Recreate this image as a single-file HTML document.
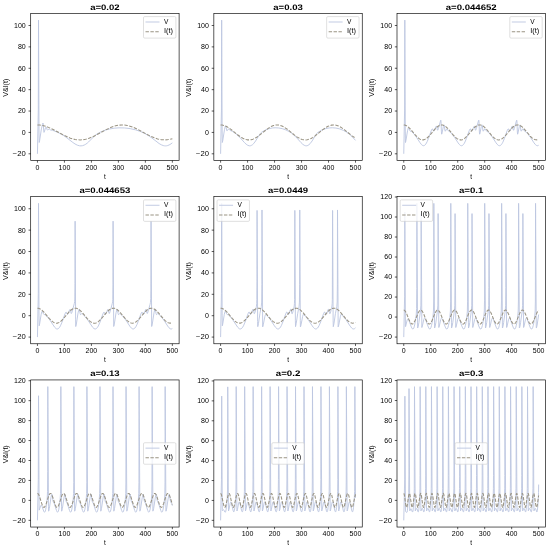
<!DOCTYPE html>
<html><head><meta charset="utf-8"><style>
html,body{margin:0;padding:0;background:#fff;}
svg{display:block;will-change:transform;font-family:"Liberation Sans",sans-serif;}
</style></head><body>
<svg width="550" height="550" viewBox="0 0 550 550">
<rect width="550" height="550" fill="#fff"/>
<clipPath id="c0"><rect x="30.7" y="13.4" width="148.4" height="147.1"/></clipPath>
<g clip-path="url(#c0)" fill="none" stroke-linejoin="round">
<path d="M37.45 153.81L38.3 109.97 38.52 20.09 39 132.06 39.19 142.5 39.66 140.33 41.4 128.93 42.4 124.51 42.75 123.36 42.98 123.02 43.25 124.05 43.72 130.86 44.02 132.39 44.33 131.87 45.5 127.74 45.83 127.09 46.11 126.94 46.44 127.46 47.08 129.64 47.4 130.11 47.77 130.03 48.73 129.02 49.2 128.92 50.65 130.02 52.62 130.31 56.29 131.73 59.04 132.98 62.13 134.63 65.14 136.55 72.87 142.47 75 143.95 77.34 145.17 79.5 145.79 81.06 145.87 82.62 145.64 84.18 145.09 85.77 144.21 87.15 143.21 88.62 141.93 93.53 136.91 95.53 135.1 98.04 133.37 101.29 131.68 105.29 130.14 109.63 128.98 114.24 128.2 119 127.84 124.58 127.95 130.11 128.61 135.49 129.82 140.61 131.56 144.33 133.24 147.88 135.23 151.55 137.72 159.1 143.52 161.25 144.79 163.22 145.56 164.36 145.8 165.49 145.88 166.61 145.79 167.73 145.54 169.99 144.55 172.35 142.85" stroke="#bcc6e0" stroke-width="0.92" stroke-opacity="1"/>
<path d="M37.45 124.94L39.85 125.06 42.29 125.42 44.78 126.02 47.36 126.88 52.68 129.23 63.28 134.95 67.84 137.15 70.36 138.14 72.75 138.91 75.06 139.45 77.33 139.79 80.08 139.91 82.83 139.73 85.62 139.23 88.51 138.42 91.34 137.35 94.42 135.95 106.17 129.64 111.24 127.28 114.06 126.27 116.75 125.55 119.36 125.11 121.94 124.94 124.56 125.06 127.22 125.45 129.94 126.14 132.79 127.13 138.01 129.51 147.18 134.5 150.72 136.29 154.33 137.85 157.65 138.94 161.36 139.7 164.99 139.91 168.62 139.58 172.35 138.71" stroke="#9a9484" stroke-width="1.05" stroke-dasharray="3.42 1.48" stroke-opacity="1"/>
</g>
<rect x="30.7" y="13.4" width="148.4" height="147.1" fill="none" stroke="#000" stroke-width="0.65"/>
<path d="M37.45 160.5v2.16M64.43 160.5v2.16M91.41 160.5v2.16M118.39 160.5v2.16M145.37 160.5v2.16M172.35 160.5v2.16M30.7 153.81h-2.16M30.7 132.43h-2.16M30.7 111.04h-2.16M30.7 89.66h-2.16M30.7 68.27h-2.16M30.7 46.89h-2.16M30.7 25.5h-2.16" stroke="#000" stroke-width="0.65" fill="none"/>
<g font-size="6.4" fill="#000"><text x="37.45" y="169.8" text-anchor="middle" textLength="3.92" lengthAdjust="spacingAndGlyphs">0</text><text x="64.43" y="169.8" text-anchor="middle" textLength="11.76" lengthAdjust="spacingAndGlyphs">100</text><text x="91.41" y="169.8" text-anchor="middle" textLength="11.76" lengthAdjust="spacingAndGlyphs">200</text><text x="118.39" y="169.8" text-anchor="middle" textLength="11.76" lengthAdjust="spacingAndGlyphs">300</text><text x="145.37" y="169.8" text-anchor="middle" textLength="11.76" lengthAdjust="spacingAndGlyphs">400</text><text x="172.35" y="169.8" text-anchor="middle" textLength="11.76" lengthAdjust="spacingAndGlyphs">500</text><text x="25.8" y="156.21" text-anchor="end" textLength="13.01" lengthAdjust="spacingAndGlyphs">−20</text><text x="25.8" y="134.83" text-anchor="end" textLength="3.92" lengthAdjust="spacingAndGlyphs">0</text><text x="25.8" y="113.44" text-anchor="end" textLength="7.84" lengthAdjust="spacingAndGlyphs">20</text><text x="25.8" y="92.06" text-anchor="end" textLength="7.84" lengthAdjust="spacingAndGlyphs">40</text><text x="25.8" y="70.67" text-anchor="end" textLength="7.84" lengthAdjust="spacingAndGlyphs">60</text><text x="25.8" y="49.29" text-anchor="end" textLength="7.84" lengthAdjust="spacingAndGlyphs">80</text><text x="25.8" y="27.9" text-anchor="end" textLength="11.76" lengthAdjust="spacingAndGlyphs">100</text></g>
<text x="104.9" y="178.5" text-anchor="middle" font-size="6.4">t</text>
<text transform="translate(8 87.75) rotate(-90)" text-anchor="middle" font-size="6.4" textLength="18.0" lengthAdjust="spacingAndGlyphs">V&amp;I(t)</text>
<text x="104.9" y="9.7" text-anchor="middle" font-size="8.0" font-weight="bold" text-rendering="geometricPrecision" textLength="29.5" lengthAdjust="spacingAndGlyphs">a=0.02</text>
<rect x="143.5" y="16.6" width="32.4" height="21.5" rx="1.2" fill="#fff" fill-opacity="0.8" stroke="#cccccc" stroke-width="0.62"/>
<path d="M145.5 22h14.0" stroke="#bcc6e0" stroke-opacity="1" stroke-width="0.92"/>
<path d="M145.5 31.7h14.0" stroke="#9a9484" stroke-opacity="1" stroke-width="1.05" stroke-dasharray="3.42 1.48"/>
<g font-size="6.4"><text x="163.9" y="23.9" textLength="4.4" lengthAdjust="spacingAndGlyphs">V</text><text x="163.9" y="33" textLength="9.0" lengthAdjust="spacingAndGlyphs">I(t)</text></g>
<clipPath id="c1"><rect x="213.85" y="13.4" width="148.4" height="147.1"/></clipPath>
<g clip-path="url(#c1)" fill="none" stroke-linejoin="round">
<path d="M220.6 153.81L221.45 110.01 221.67 20.09 222.15 132.01 222.34 142.51 222.8 140.42 224.46 129.7 225.15 126.84 225.44 126.1 225.67 125.86 225.98 126.44 226.57 129.87 226.91 130.76 227.07 130.8 227.25 130.64 228.21 129.18 228.65 128.97 229.02 129.19 230.17 130.53 231.7 131.01 232.69 131.57 235.67 133.64 238.18 135.79 240.45 138.09 244.55 142.66 246.1 144.15 247.76 145.31 249.3 145.8 250.36 145.76 251.42 145.39 252.49 144.69 253.58 143.65 255.58 141 259.64 134.36 260.65 133.1 261.66 132.23 265.57 129.94 268.84 128.72 272.41 127.97 275.2 127.77 278.78 127.97 282.18 128.64 285.7 129.84 289.12 131.57 291.93 133.45 294.62 135.72 296.93 138.06 301.07 142.67 302.59 144.14 304.17 145.26 305.64 145.78 306.75 145.78 307.84 145.44 308.93 144.75 310.05 143.69 312.08 141.01 316.09 134.44 317.04 133.23 317.97 132.37 321.52 130.23 322.68 129.67 325.87 128.57 329.25 127.93 332.39 127.76 335.88 128.06 339.56 128.89 343.35 130.35 346.49 132.1 349.48 134.27 352.29 136.85 355.5 140.36" stroke="#bcc6e0" stroke-width="0.92" stroke-opacity="1"/>
<path d="M220.6 124.94L222.17 125.06 223.76 125.4 225.38 125.98 227.07 126.8 230.65 129.15 237.94 135.05 241.12 137.32 242.89 138.33 244.57 139.08 246.19 139.59 247.79 139.86 249.51 139.89 251.24 139.65 253 139.13 254.81 138.33 256.65 137.27 258.64 135.9 266.4 129.65 269.79 127.29 271.67 126.27 273.46 125.55 275.21 125.11 276.93 124.94 278.57 125.04 280.24 125.39 281.93 125.99 283.7 126.86 287.27 129.23 294.3 134.93 297.3 137.1 300.53 138.86 302.05 139.41 303.54 139.76 305.41 139.91 307.28 139.74 309.17 139.25 311.13 138.42 313.03 137.35 315.09 135.94 322.89 129.66 326.24 127.32 328.09 126.31 329.86 125.59 331.58 125.13 333.27 124.95 335.08 125.04 336.91 125.44 338.78 126.14 340.74 127.17 344.24 129.58 351.99 135.83 355.5 138.11" stroke="#9a9484" stroke-width="1.05" stroke-dasharray="3.42 1.48" stroke-opacity="1"/>
</g>
<rect x="213.85" y="13.4" width="148.4" height="147.1" fill="none" stroke="#000" stroke-width="0.65"/>
<path d="M220.6 160.5v2.16M247.58 160.5v2.16M274.56 160.5v2.16M301.54 160.5v2.16M328.52 160.5v2.16M355.5 160.5v2.16M213.85 153.81h-2.16M213.85 132.43h-2.16M213.85 111.04h-2.16M213.85 89.66h-2.16M213.85 68.27h-2.16M213.85 46.88h-2.16M213.85 25.5h-2.16" stroke="#000" stroke-width="0.65" fill="none"/>
<g font-size="6.4" fill="#000"><text x="220.6" y="169.8" text-anchor="middle" textLength="3.92" lengthAdjust="spacingAndGlyphs">0</text><text x="247.58" y="169.8" text-anchor="middle" textLength="11.76" lengthAdjust="spacingAndGlyphs">100</text><text x="274.56" y="169.8" text-anchor="middle" textLength="11.76" lengthAdjust="spacingAndGlyphs">200</text><text x="301.54" y="169.8" text-anchor="middle" textLength="11.76" lengthAdjust="spacingAndGlyphs">300</text><text x="328.52" y="169.8" text-anchor="middle" textLength="11.76" lengthAdjust="spacingAndGlyphs">400</text><text x="355.5" y="169.8" text-anchor="middle" textLength="11.76" lengthAdjust="spacingAndGlyphs">500</text><text x="208.95" y="156.21" text-anchor="end" textLength="13.01" lengthAdjust="spacingAndGlyphs">−20</text><text x="208.95" y="134.83" text-anchor="end" textLength="3.92" lengthAdjust="spacingAndGlyphs">0</text><text x="208.95" y="113.44" text-anchor="end" textLength="7.84" lengthAdjust="spacingAndGlyphs">20</text><text x="208.95" y="92.06" text-anchor="end" textLength="7.84" lengthAdjust="spacingAndGlyphs">40</text><text x="208.95" y="70.67" text-anchor="end" textLength="7.84" lengthAdjust="spacingAndGlyphs">60</text><text x="208.95" y="49.28" text-anchor="end" textLength="7.84" lengthAdjust="spacingAndGlyphs">80</text><text x="208.95" y="27.9" text-anchor="end" textLength="11.76" lengthAdjust="spacingAndGlyphs">100</text></g>
<text x="288.05" y="178.5" text-anchor="middle" font-size="6.4">t</text>
<text transform="translate(191.15 87.75) rotate(-90)" text-anchor="middle" font-size="6.4" textLength="18.0" lengthAdjust="spacingAndGlyphs">V&amp;I(t)</text>
<text x="288.05" y="9.7" text-anchor="middle" font-size="8.0" font-weight="bold" text-rendering="geometricPrecision" textLength="29.5" lengthAdjust="spacingAndGlyphs">a=0.03</text>
<rect x="326.65" y="16.6" width="32.4" height="21.5" rx="1.2" fill="#fff" fill-opacity="0.8" stroke="#cccccc" stroke-width="0.62"/>
<path d="M328.65 22h14.0" stroke="#bcc6e0" stroke-opacity="1" stroke-width="0.92"/>
<path d="M328.65 31.7h14.0" stroke="#9a9484" stroke-opacity="1" stroke-width="1.05" stroke-dasharray="3.42 1.48"/>
<g font-size="6.4"><text x="347.05" y="23.9" textLength="4.4" lengthAdjust="spacingAndGlyphs">V</text><text x="347.05" y="33" textLength="9.0" lengthAdjust="spacingAndGlyphs">I(t)</text></g>
<clipPath id="c2"><rect x="397" y="13.4" width="148.4" height="147.1"/></clipPath>
<g clip-path="url(#c2)" fill="none" stroke-linejoin="round">
<path d="M403.75 153.81L404.6 110.09 404.82 20.09 405.3 131.91 405.49 142.54 405.93 140.63 407.52 130.77 408.12 128.55 408.39 128.02 408.64 127.87 408.98 128.29 409.62 130.25 409.96 130.93 410.3 131.2 411.23 131.31 411.81 131.63 414.41 134.48 416.29 136.94 419.93 142.57 421.33 144.41 422.19 145.21 423 145.63 423.78 145.69 424.55 145.39 425.2 144.85 425.85 144.04 427.21 141.59 428.53 138.33 431.17 130.87 432.07 129.04 432.34 128.85 432.59 128.97 433.48 130.9 433.71 131.13 433.95 131.09 434.53 130.15 435.9 126.64 436.15 126.23 436.35 126.12 436.69 126.77 437.36 129.93 437.57 130.25 437.81 130.09 438.34 128.69 440.47 120.98 440.8 120.19 441.04 121.74 441.41 131.93 441.66 134.2 441.94 133.55 443.34 126.61 443.77 125.22 444.07 124.88 444.34 125.66 444.87 129.98 445.18 131.11 445.33 131.16 445.5 130.98 446.52 129.06 446.81 128.87 447.1 128.98 448.33 130.84 450.34 132.23 452.93 135.15 454.77 137.7 458.04 142.78 459.25 144.36 459.99 145.08 460.68 145.52 461.34 145.71 462 145.64 462.72 145.25 463.45 144.53 464.19 143.48 464.95 142.06 466.39 138.61 469.17 130.78 470.05 129.02 470.31 128.85 470.56 128.98 471.45 130.9 471.68 131.13 471.92 131.09 472.5 130.16 473.86 126.65 474.11 126.23 474.32 126.12 474.66 126.77 475.32 129.93 475.54 130.25 475.77 130.1 476.3 128.7 478.43 120.97 478.77 120.19 479.01 121.76 479.38 131.96 479.63 134.2 479.91 133.54 481.31 126.6 481.74 125.22 482.04 124.88 482.31 125.67 482.83 129.98 483.14 131.11 483.29 131.16 483.47 130.98 484.49 129.06 484.78 128.87 485.07 128.98 486.3 130.84 488.31 132.23 490.9 135.15 492.74 137.7 495.99 142.75 497.17 144.31 498.54 145.47 499.17 145.69 499.79 145.68 500.55 145.35 501.3 144.68 502.06 143.64 502.84 142.22 504.32 138.71 507.15 130.76 508.01 129.02 508.28 128.85 508.52 128.97 509.41 130.9 509.64 131.13 509.88 131.09 510.47 130.15 511.83 126.64 512.08 126.23 512.28 126.12 512.63 126.77 513.29 129.93 513.5 130.25 513.74 130.1 514.27 128.7 516.4 120.98 516.73 120.18 516.98 121.73 517.35 131.98 517.6 134.21 517.88 133.54 519.27 126.63 519.7 125.24 520 124.88 520.27 125.66 520.81 130 521.12 131.12 521.26 131.16 521.44 130.97 522.44 129.07 522.74 128.87 523.02 128.96 524.27 130.84 526.27 132.22 528.83 135.11 530.69 137.68 534.03 142.87 535.39 144.58 536.26 145.32 537.08 145.68 537.87 145.66 538.65 145.25" stroke="#bcc6e0" stroke-width="0.92" stroke-opacity="1"/>
<path d="M403.75 124.94L404.79 125.05 405.85 125.39 406.93 125.96 408.05 126.76 410.47 129.11 415.44 135.09 417.62 137.39 418.83 138.41 419.98 139.15 421.1 139.64 422.2 139.88 423.32 139.88 424.44 139.61 425.58 139.09 426.76 138.31 429.31 135.9 434.54 129.63 436.83 127.25 438.11 126.23 439.33 125.51 440.52 125.09 441.7 124.94 442.76 125.05 443.83 125.39 444.93 125.97 446.06 126.8 448.47 129.15 453.37 135.05 455.49 137.3 456.68 138.31 457.8 139.07 458.89 139.58 459.96 139.86 461.12 139.89 462.27 139.66 463.45 139.15 464.67 138.35 467.25 135.92 472.51 129.62 474.8 127.25 476.08 126.23 477.3 125.51 478.49 125.09 479.66 124.94 480.75 125.06 481.84 125.42 482.97 126.02 484.14 126.88 486.52 129.24 491.23 134.93 493.25 137.11 495.43 138.86 496.45 139.42 497.45 139.76 498.69 139.91 499.94 139.75 501.2 139.26 502.5 138.45 503.78 137.38 505.17 135.97 510.48 129.61 512.78 127.24 514.05 126.23 515.26 125.51 516.45 125.09 517.62 124.94 518.79 125.07 519.98 125.49 521.2 126.2 522.47 127.2 524.78 129.58 530.23 136.08 531.7 137.55 533.05 138.64 534.49 139.44 535.88 139.85 537.26 139.87 538.65 139.5" stroke="#9a9484" stroke-width="1.05" stroke-dasharray="3.42 1.48" stroke-opacity="1"/>
</g>
<rect x="397" y="13.4" width="148.4" height="147.1" fill="none" stroke="#000" stroke-width="0.65"/>
<path d="M403.75 160.5v2.16M430.73 160.5v2.16M457.71 160.5v2.16M484.69 160.5v2.16M511.67 160.5v2.16M538.65 160.5v2.16M397 153.81h-2.16M397 132.43h-2.16M397 111.04h-2.16M397 89.65h-2.16M397 68.26h-2.16M397 46.87h-2.16M397 25.49h-2.16" stroke="#000" stroke-width="0.65" fill="none"/>
<g font-size="6.4" fill="#000"><text x="403.75" y="169.8" text-anchor="middle" textLength="3.92" lengthAdjust="spacingAndGlyphs">0</text><text x="430.73" y="169.8" text-anchor="middle" textLength="11.76" lengthAdjust="spacingAndGlyphs">100</text><text x="457.71" y="169.8" text-anchor="middle" textLength="11.76" lengthAdjust="spacingAndGlyphs">200</text><text x="484.69" y="169.8" text-anchor="middle" textLength="11.76" lengthAdjust="spacingAndGlyphs">300</text><text x="511.67" y="169.8" text-anchor="middle" textLength="11.76" lengthAdjust="spacingAndGlyphs">400</text><text x="538.65" y="169.8" text-anchor="middle" textLength="11.76" lengthAdjust="spacingAndGlyphs">500</text><text x="392.1" y="156.21" text-anchor="end" textLength="13.01" lengthAdjust="spacingAndGlyphs">−20</text><text x="392.1" y="134.83" text-anchor="end" textLength="3.92" lengthAdjust="spacingAndGlyphs">0</text><text x="392.1" y="113.44" text-anchor="end" textLength="7.84" lengthAdjust="spacingAndGlyphs">20</text><text x="392.1" y="92.05" text-anchor="end" textLength="7.84" lengthAdjust="spacingAndGlyphs">40</text><text x="392.1" y="70.66" text-anchor="end" textLength="7.84" lengthAdjust="spacingAndGlyphs">60</text><text x="392.1" y="49.27" text-anchor="end" textLength="7.84" lengthAdjust="spacingAndGlyphs">80</text><text x="392.1" y="27.89" text-anchor="end" textLength="11.76" lengthAdjust="spacingAndGlyphs">100</text></g>
<text x="471.2" y="178.5" text-anchor="middle" font-size="6.4">t</text>
<text transform="translate(374.3 87.75) rotate(-90)" text-anchor="middle" font-size="6.4" textLength="18.0" lengthAdjust="spacingAndGlyphs">V&amp;I(t)</text>
<text x="471.2" y="9.7" text-anchor="middle" font-size="8.0" font-weight="bold" text-rendering="geometricPrecision" textLength="50.9" lengthAdjust="spacingAndGlyphs">a=0.044652</text>
<rect x="509.8" y="16.6" width="32.4" height="21.5" rx="1.2" fill="#fff" fill-opacity="0.8" stroke="#cccccc" stroke-width="0.62"/>
<path d="M511.8 22h14.0" stroke="#bcc6e0" stroke-opacity="1" stroke-width="0.92"/>
<path d="M511.8 31.7h14.0" stroke="#9a9484" stroke-opacity="1" stroke-width="1.05" stroke-dasharray="3.42 1.48"/>
<g font-size="6.4"><text x="530.2" y="23.9" textLength="4.4" lengthAdjust="spacingAndGlyphs">V</text><text x="530.2" y="33" textLength="9.0" lengthAdjust="spacingAndGlyphs">I(t)</text></g>
<clipPath id="c3"><rect x="30.7" y="196.67" width="148.4" height="147.1"/></clipPath>
<g clip-path="url(#c3)" fill="none" stroke-linejoin="round">
<path d="M37.45 337.08L38.3 293.36 38.52 203.36 39 315.18 39.19 325.81 39.63 323.87 41.18 314.24 41.75 312.02 42.25 311.15 42.45 311.19 42.65 311.49 43.34 313.56 43.69 314.24 44.05 314.48 45.19 314.69 46.16 315.54 49.53 319.57 54.68 327.27 55.97 328.53 56.56 328.86 57.14 328.98 57.96 328.82 58.77 328.25 59.59 327.26 60.43 325.84 62 322.21 64.94 313.96 65.78 312.29 66.05 312.12 66.29 312.24 67.18 314.17 67.41 314.4 67.65 314.36 68.23 313.42 69.59 309.93 70.03 309.39 70.37 309.98 71.13 313.38 71.28 313.53 71.44 313.45 71.83 312.61 74.36 303.33 74.64 301.55 74.79 299.07 74.97 283.69 75.12 221.18 75.61 319.88 75.74 326.54 76.35 323.99 78.06 312.91 78.71 310.17 79.19 309.14 79.37 309.25 79.53 309.75 80.11 313.54 80.44 314.58 80.59 314.67 80.77 314.61 81.79 313.53 82.12 313.52 82.46 313.75 83.6 315.2 85.51 317.07 87.02 318.92 92.66 327.3 93.86 328.48 94.95 328.97 95.8 328.87 96.63 328.35 97.47 327.39 98.33 325.97 99.94 322.29 102.92 313.92 103.76 312.28 104.02 312.12 104.26 312.25 105.14 314.17 105.37 314.4 105.62 314.36 106.2 313.42 107.56 309.91 107.81 309.5 108.01 309.39 108.36 310.04 109.02 313.19 109.23 313.52 109.45 313.39 110.15 311.46 112.24 303.7 112.58 301.83 112.75 299.35 112.93 284.19 113.08 221.13 113.69 326.5 113.91 326.02 114.3 324.07 116.06 312.75 116.72 310.02 116.99 309.34 117.2 309.13 117.5 309.77 118.08 313.56 118.43 314.6 118.74 314.6 119.76 313.52 120.1 313.52 120.46 313.78 121.58 315.21 123.4 317 124.8 318.67 126.51 321.08 129.9 326.33 131.59 328.29 132.39 328.81 133.17 328.98 133.92 328.81 134.67 328.28 135.83 326.79 137.04 324.4 138.26 321.34 140.78 314.21 141.7 312.31 141.97 312.12 142.22 312.24 143.11 314.17 143.34 314.4 143.58 314.36 144.17 313.42 145.53 309.91 145.78 309.5 145.98 309.39 146.32 310.04 146.99 313.21 147.21 313.52 147.46 313.34 148.49 310.14 150 304.53 150.47 302.37 150.74 298.66 150.86 290 151.05 221.12 151.66 326.5 151.87 326.02 152.27 324.07 154.03 312.73 154.69 310 154.95 309.33 155.17 309.13 155.47 309.77 156.05 313.56 156.39 314.6 156.71 314.6 157.69 313.54 158 313.5 158.32 313.68 159.55 315.21 161.41 317.04 162.87 318.8 164.54 321.18 167.67 326.04 169.04 327.81 169.93 328.57 170.76 328.94 171.56 328.93 172.35 328.52" stroke="#bcc6e0" stroke-width="0.92" stroke-opacity="1"/>
<path d="M37.45 308.21L38.49 308.32 39.55 308.66 40.63 309.23 41.75 310.03 44.17 312.38 49.14 318.36 51.32 320.66 52.53 321.68 53.68 322.42 54.8 322.91 55.9 323.15 57.02 323.15 58.14 322.88 59.28 322.36 60.46 321.58 63.01 319.17 68.24 312.9 70.53 310.52 71.81 309.5 73.03 308.78 74.22 308.35 75.4 308.21 76.46 308.32 77.53 308.67 78.63 309.24 79.76 310.07 82.17 312.42 87.06 318.31 89.19 320.58 90.38 321.59 91.5 322.34 92.59 322.85 93.66 323.13 94.82 323.16 95.97 322.93 97.15 322.42 98.37 321.62 100.95 319.19 106.21 312.89 108.5 310.52 109.78 309.5 111 308.78 112.19 308.36 113.36 308.21 114.44 308.33 115.54 308.68 116.67 309.29 117.84 310.16 120.21 312.51 124.93 318.2 126.95 320.37 129.12 322.13 130.15 322.69 131.15 323.03 132.39 323.18 133.64 323.02 134.9 322.53 136.2 321.72 137.48 320.65 138.87 319.24 144.18 312.88 146.47 310.51 147.75 309.5 148.96 308.79 150.15 308.36 151.31 308.21 152.49 308.34 153.68 308.76 154.89 309.47 156.17 310.47 158.48 312.85 163.92 319.36 165.39 320.82 166.75 321.91 168.18 322.71 169.58 323.12 170.96 323.14 172.35 322.76" stroke="#9a9484" stroke-width="1.05" stroke-dasharray="3.42 1.48" stroke-opacity="1"/>
</g>
<rect x="30.7" y="196.67" width="148.4" height="147.1" fill="none" stroke="#000" stroke-width="0.65"/>
<path d="M37.45 343.77v2.16M64.43 343.77v2.16M91.41 343.77v2.16M118.39 343.77v2.16M145.37 343.77v2.16M172.35 343.77v2.16M30.7 337.08h-2.16M30.7 315.7h-2.16M30.7 294.31h-2.16M30.7 272.92h-2.16M30.7 251.53h-2.16M30.7 230.14h-2.16M30.7 208.76h-2.16" stroke="#000" stroke-width="0.65" fill="none"/>
<g font-size="6.4" fill="#000"><text x="37.45" y="353.07" text-anchor="middle" textLength="3.92" lengthAdjust="spacingAndGlyphs">0</text><text x="64.43" y="353.07" text-anchor="middle" textLength="11.76" lengthAdjust="spacingAndGlyphs">100</text><text x="91.41" y="353.07" text-anchor="middle" textLength="11.76" lengthAdjust="spacingAndGlyphs">200</text><text x="118.39" y="353.07" text-anchor="middle" textLength="11.76" lengthAdjust="spacingAndGlyphs">300</text><text x="145.37" y="353.07" text-anchor="middle" textLength="11.76" lengthAdjust="spacingAndGlyphs">400</text><text x="172.35" y="353.07" text-anchor="middle" textLength="11.76" lengthAdjust="spacingAndGlyphs">500</text><text x="25.8" y="339.48" text-anchor="end" textLength="13.01" lengthAdjust="spacingAndGlyphs">−20</text><text x="25.8" y="318.1" text-anchor="end" textLength="3.92" lengthAdjust="spacingAndGlyphs">0</text><text x="25.8" y="296.71" text-anchor="end" textLength="7.84" lengthAdjust="spacingAndGlyphs">20</text><text x="25.8" y="275.32" text-anchor="end" textLength="7.84" lengthAdjust="spacingAndGlyphs">40</text><text x="25.8" y="253.93" text-anchor="end" textLength="7.84" lengthAdjust="spacingAndGlyphs">60</text><text x="25.8" y="232.54" text-anchor="end" textLength="7.84" lengthAdjust="spacingAndGlyphs">80</text><text x="25.8" y="211.16" text-anchor="end" textLength="11.76" lengthAdjust="spacingAndGlyphs">100</text></g>
<text x="104.9" y="361.77" text-anchor="middle" font-size="6.4">t</text>
<text transform="translate(8 271.02) rotate(-90)" text-anchor="middle" font-size="6.4" textLength="18.0" lengthAdjust="spacingAndGlyphs">V&amp;I(t)</text>
<text x="104.9" y="192.97" text-anchor="middle" font-size="8.0" font-weight="bold" text-rendering="geometricPrecision" textLength="50.9" lengthAdjust="spacingAndGlyphs">a=0.044653</text>
<rect x="143.5" y="199.87" width="32.4" height="21.5" rx="1.2" fill="#fff" fill-opacity="0.8" stroke="#cccccc" stroke-width="0.62"/>
<path d="M145.5 205.27h14.0" stroke="#bcc6e0" stroke-opacity="1" stroke-width="0.92"/>
<path d="M145.5 214.97h14.0" stroke="#9a9484" stroke-opacity="1" stroke-width="1.05" stroke-dasharray="3.42 1.48"/>
<g font-size="6.4"><text x="163.9" y="207.17" textLength="4.4" lengthAdjust="spacingAndGlyphs">V</text><text x="163.9" y="216.27" textLength="9.0" lengthAdjust="spacingAndGlyphs">I(t)</text></g>
<clipPath id="c4"><rect x="213.85" y="196.67" width="148.4" height="147.1"/></clipPath>
<g clip-path="url(#c4)" fill="none" stroke-linejoin="round">
<path d="M220.6 337.08L221.45 293.37 221.67 203.36 222.15 315.17 222.34 325.81 222.78 323.87 224.32 314.26 224.9 312.05 225.4 311.18 225.6 311.22 225.79 311.52 226.49 313.58 226.84 314.26 227.2 314.5 228.34 314.73 229.32 315.6 232.63 319.6 237.73 327.27 239.02 328.53 239.61 328.86 240.19 328.98 241.01 328.81 241.82 328.24 242.64 327.23 243.48 325.8 245.05 322.13 247.99 313.81 248.81 312.15 249.07 311.99 249.31 312.13 250.19 314.21 250.42 314.46 250.67 314.42 251.26 313.41 252.66 309.63 253.1 309.07 253.43 309.73 254.19 313.63 254.34 313.78 254.51 313.65 254.94 312.54 255.96 308.64 256.43 306.23 256.68 303.69 256.81 299.74 256.95 281.1 257.07 210.42 257.63 321.49 257.69 326.16 257.74 326.68 257.83 326.58 258.46 323.57 259.94 313.45 261.31 306.47 261.67 302.09 261.86 284.66 261.99 209.98 262.66 326.89 262.89 326.42 263.28 324.85 264.88 316.4 265.39 314.79 265.88 314.1 266.14 314.1 266.42 314.33 267.69 316.38 270.29 319.46 274.38 325.74 275.55 327.34 276.91 328.62 277.55 328.91 278.16 328.98 278.95 328.72 279.73 328.09 280.52 327.05 281.33 325.62 282.85 322.01 285.73 313.85 286.56 312.17 286.83 311.99 287.07 312.13 287.95 314.21 288.18 314.46 288.43 314.42 289.02 313.41 290.42 309.64 290.84 309.07 291.02 309.21 291.18 309.69 291.72 312.85 291.98 313.7 292.15 313.76 292.35 313.51 292.88 311.91 293.81 308.24 294.22 306.03 294.44 303.48 294.58 299.43 294.83 210.42 295.38 320.76 295.54 326.7 296.2 323.71 297.72 313.32 299.07 306.5 299.43 302.07 299.62 284.42 299.75 209.98 300.3 320.58 300.42 326.9 300.65 326.41 301.04 324.84 302.63 316.4 303.15 314.79 303.64 314.1 303.9 314.1 304.17 314.33 305.45 316.38 308.05 319.46 312.14 325.74 313.3 327.34 314.67 328.62 315.3 328.91 315.92 328.98 316.7 328.72 317.48 328.09 318.28 327.05 319.08 325.61 320.61 322.01 323.49 313.85 324.32 312.17 324.58 311.99 324.83 312.13 325.71 314.21 325.94 314.46 326.18 314.42 326.78 313.41 328.17 309.64 328.6 309.07 328.77 309.21 328.94 309.69 329.47 312.84 329.74 313.69 329.91 313.76 330.1 313.51 330.63 311.92 331.56 308.25 331.98 306.02 332.2 303.47 332.34 299.4 332.59 210.42 333.14 320.43 333.29 326.71 333.95 323.74 335.48 313.3 336.82 306.51 337.18 302.13 337.38 284.21 337.51 209.98 338.16 326.83 338.22 326.92 338.35 326.58 338.77 324.95 340.45 316.16 341.01 314.57 341.28 314.19 341.55 314.07 341.95 314.35 343.21 316.38 345.86 319.53 350.12 326.07 351.67 328.01 352.68 328.77 353.64 328.98 354.57 328.66 355.5 327.79" stroke="#bcc6e0" stroke-width="0.92" stroke-opacity="1"/>
<path d="M220.6 308.21L221.64 308.32 222.69 308.66 223.76 309.22 224.87 310.03 227.28 312.38 232.23 318.37 234.4 320.66 235.6 321.68 236.75 322.43 237.87 322.92 238.96 323.15 240.07 323.14 241.19 322.88 242.32 322.36 243.49 321.57 246.02 319.16 251.21 312.9 253.49 310.53 254.77 309.51 255.98 308.79 257.16 308.36 258.32 308.21 259.38 308.32 260.45 308.66 261.54 309.24 262.67 310.06 265.07 312.42 269.95 318.32 272.07 320.58 273.25 321.6 274.37 322.35 275.46 322.86 276.53 323.13 277.67 323.16 278.82 322.92 279.99 322.41 281.2 321.61 283.76 319.18 288.97 312.9 291.25 310.53 292.52 309.51 293.73 308.79 294.9 308.36 296.07 308.21 297.15 308.32 298.24 308.68 299.36 309.28 300.52 310.14 302.9 312.5 307.61 318.21 309.63 320.39 311.8 322.15 312.83 322.7 313.83 323.04 315.06 323.18 316.29 323.01 317.54 322.52 318.83 321.7 320.1 320.64 321.48 319.23 326.73 312.89 329.01 310.53 330.27 309.52 331.47 308.8 332.64 308.37 333.79 308.21 334.96 308.33 336.15 308.74 337.36 309.44 338.63 310.44 340.94 312.82 346.47 319.46 348.01 320.97 349.43 322.07 350.97 322.86 352.48 323.17 353.98 323.03 355.5 322.41" stroke="#9a9484" stroke-width="1.05" stroke-dasharray="3.42 1.48" stroke-opacity="1"/>
</g>
<rect x="213.85" y="196.67" width="148.4" height="147.1" fill="none" stroke="#000" stroke-width="0.65"/>
<path d="M220.6 343.77v2.16M247.58 343.77v2.16M274.56 343.77v2.16M301.54 343.77v2.16M328.52 343.77v2.16M355.5 343.77v2.16M213.85 337.08h-2.16M213.85 315.7h-2.16M213.85 294.31h-2.16M213.85 272.92h-2.16M213.85 251.53h-2.16M213.85 230.14h-2.16M213.85 208.76h-2.16" stroke="#000" stroke-width="0.65" fill="none"/>
<g font-size="6.4" fill="#000"><text x="220.6" y="353.07" text-anchor="middle" textLength="3.92" lengthAdjust="spacingAndGlyphs">0</text><text x="247.58" y="353.07" text-anchor="middle" textLength="11.76" lengthAdjust="spacingAndGlyphs">100</text><text x="274.56" y="353.07" text-anchor="middle" textLength="11.76" lengthAdjust="spacingAndGlyphs">200</text><text x="301.54" y="353.07" text-anchor="middle" textLength="11.76" lengthAdjust="spacingAndGlyphs">300</text><text x="328.52" y="353.07" text-anchor="middle" textLength="11.76" lengthAdjust="spacingAndGlyphs">400</text><text x="355.5" y="353.07" text-anchor="middle" textLength="11.76" lengthAdjust="spacingAndGlyphs">500</text><text x="208.95" y="339.48" text-anchor="end" textLength="13.01" lengthAdjust="spacingAndGlyphs">−20</text><text x="208.95" y="318.1" text-anchor="end" textLength="3.92" lengthAdjust="spacingAndGlyphs">0</text><text x="208.95" y="296.71" text-anchor="end" textLength="7.84" lengthAdjust="spacingAndGlyphs">20</text><text x="208.95" y="275.32" text-anchor="end" textLength="7.84" lengthAdjust="spacingAndGlyphs">40</text><text x="208.95" y="253.93" text-anchor="end" textLength="7.84" lengthAdjust="spacingAndGlyphs">60</text><text x="208.95" y="232.54" text-anchor="end" textLength="7.84" lengthAdjust="spacingAndGlyphs">80</text><text x="208.95" y="211.16" text-anchor="end" textLength="11.76" lengthAdjust="spacingAndGlyphs">100</text></g>
<text x="288.05" y="361.77" text-anchor="middle" font-size="6.4">t</text>
<text transform="translate(191.15 271.02) rotate(-90)" text-anchor="middle" font-size="6.4" textLength="18.0" lengthAdjust="spacingAndGlyphs">V&amp;I(t)</text>
<text x="288.05" y="192.97" text-anchor="middle" font-size="8.0" font-weight="bold" text-rendering="geometricPrecision" textLength="40" lengthAdjust="spacingAndGlyphs">a=0.0449</text>
<rect x="217.05" y="199.87" width="32.4" height="21.5" rx="1.2" fill="#fff" fill-opacity="0.8" stroke="#cccccc" stroke-width="0.62"/>
<path d="M219.05 205.27h14.0" stroke="#bcc6e0" stroke-opacity="1" stroke-width="0.92"/>
<path d="M219.05 214.97h14.0" stroke="#9a9484" stroke-opacity="1" stroke-width="1.05" stroke-dasharray="3.42 1.48"/>
<g font-size="6.4"><text x="237.45" y="207.17" textLength="4.4" lengthAdjust="spacingAndGlyphs">V</text><text x="237.45" y="216.27" textLength="9.0" lengthAdjust="spacingAndGlyphs">I(t)</text></g>
<clipPath id="c5"><rect x="397" y="196.67" width="148.4" height="147.1"/></clipPath>
<g clip-path="url(#c5)" fill="none" stroke-linejoin="round">
<path d="M403.75 337.08L404.61 296.15 404.82 212.01 405.43 326.34 405.51 326.73 405.69 326.26 407.17 319.98 407.59 319.11 408.02 318.92 408.43 319.33 408.92 320.32 410.98 326.07 411.77 327.93 412.5 328.96 412.84 329.09 413.16 328.98 413.7 328.25 414.23 326.82 415.32 321.68 416.21 315.1 416.59 308.69 416.77 288.71 416.88 203.37 417.55 322.91 417.67 328.03 418.27 326.2 418.91 322.33 420.51 310.7 420.87 305.17 421.04 287.04 421.16 213.59 421.83 327.38 421.88 327.53 421.96 327.39 422.35 326.07 423.8 319.42 424.23 318.36 424.67 318.07 425.07 318.43 425.55 319.41 427.87 325.91 428.71 327.91 429.48 328.98 429.84 329.09 430.18 328.94 430.84 327.82 431.5 325.6 432.2 322.11 432.86 317.78 433.45 311.1 433.66 301.02 433.83 203.36 434.5 322.91 434.62 328.03 435.22 326.2 435.86 322.33 437.46 310.7 437.82 305.17 437.99 287.05 438.12 213.59 438.79 327.38 438.83 327.53 438.91 327.39 439.3 326.07 440.75 319.42 441.19 318.36 441.62 318.07 442.02 318.43 442.51 319.41 444.83 325.92 445.66 327.91 446.44 328.98 446.79 329.09 447.13 328.93 447.79 327.82 448.45 325.61 449.15 322.12 449.81 317.78 450.4 311.11 450.62 301.08 450.79 203.36 451.46 322.83 451.57 328.02 452.17 326.23 452.81 322.37 454.41 310.71 454.77 305.19 454.95 287.2 455.07 213.59 455.74 327.38 455.78 327.53 455.86 327.4 456.25 326.08 457.7 319.42 458.14 318.36 458.57 318.07 458.98 318.43 459.46 319.41 461.78 325.91 462.61 327.91 463.39 328.98 463.74 329.09 464.09 328.94 464.74 327.83 465.4 325.61 466.11 322.12 466.76 317.78 467.35 311.12 467.57 301.14 467.74 203.36 468.41 322.75 468.52 328.02 469.12 326.24 469.76 322.41 471.36 310.71 471.72 305.21 471.9 287.36 472.03 213.6 472.69 327.37 472.74 327.53 472.82 327.4 473.2 326.09 474.66 319.42 475.09 318.36 475.53 318.07 475.93 318.43 476.41 319.41 478.73 325.91 479.57 327.91 480.34 328.98 480.7 329.09 481.04 328.94 481.7 327.83 482.36 325.61 483.06 322.12 483.71 317.79 484.31 311.07 484.52 300.88 484.69 203.36 485.47 328.01 485.73 327.5 486.06 326.27 486.7 322.46 488.32 310.72 488.68 305.22 488.85 287.51 488.98 213.59 489.64 327.37 489.69 327.53 489.77 327.4 490.16 326.09 491.61 319.42 492.05 318.36 492.48 318.07 492.89 318.43 493.37 319.41 495.68 325.91 496.52 327.91 497.29 328.98 497.65 329.09 497.99 328.94 498.65 327.83 499.31 325.61 500.01 322.12 500.67 317.79 501.26 311.09 501.48 300.94 501.64 203.36 502.42 328 502.67 327.56 503.01 326.32 503.65 322.52 505.27 310.72 505.63 305.24 505.8 287.66 505.93 213.59 506.6 327.39 506.64 327.53 506.73 327.39 507.12 326.07 508.56 319.43 509 318.36 509.43 318.07 509.84 318.43 510.32 319.41 512.64 325.91 513.47 327.91 514.25 328.98 514.6 329.09 514.95 328.94 515.6 327.83 516.26 325.61 516.96 322.13 517.62 317.8 518.21 311.1 518.43 301 518.6 203.36 519.36 327.95 519.42 328.01 519.57 327.69 519.93 326.43 520.58 322.64 522.22 310.75 522.58 305.25 522.76 286.99 522.88 213.59 523.55 327.38 523.6 327.53 523.68 327.39 524.07 326.07 525.51 319.42 525.95 318.36 526.39 318.07 526.79 318.43 527.27 319.41 529.59 325.91 530.43 327.91 531.2 328.98 531.56 329.09 531.9 328.94 532.55 327.83 533.22 325.62 533.92 322.13 534.57 317.82 535.16 311.16 535.38 301.06 535.55 203.36 536.27 327.19 536.32 327.97 536.43 327.92 537.09 325.46 538.65 314.52" stroke="#bcc6e0" stroke-width="0.92" stroke-opacity="1"/>
<path d="M403.75 310.07L404.2 310.17 404.66 310.46 405.61 311.67 406.7 313.87 409.02 319.69 410.04 321.91 411.16 323.54 411.69 323.94 412.22 324.08 412.68 323.97 413.15 323.67 414.11 322.43 415.2 320.22 417.47 314.51 418.47 312.32 419.56 310.68 420.07 310.25 420.58 310.07 421.06 310.13 421.54 310.4 422.53 311.62 423.65 313.85 425.97 319.69 427 321.92 428.12 323.54 428.65 323.94 429.17 324.08 429.63 323.97 430.1 323.67 431.07 322.42 432.16 320.22 434.42 314.52 435.42 312.34 436.5 310.69 437.01 310.26 437.52 310.08 438 310.12 438.48 310.4 439.48 311.61 440.6 313.84 442.93 319.69 443.95 321.92 445.07 323.54 445.6 323.94 446.13 324.08 446.59 323.97 447.06 323.67 448.03 322.41 449.12 320.2 451.37 314.53 452.36 312.36 453.44 310.72 453.95 310.28 454.45 310.08 454.93 310.12 455.42 310.38 456.43 311.6 457.55 313.84 459.88 319.69 460.9 321.92 462.02 323.54 462.55 323.94 463.08 324.08 463.55 323.97 464.01 323.66 464.99 322.39 466.07 320.19 468.31 314.55 469.3 312.38 470.37 310.74 470.87 310.29 471.37 310.08 471.86 310.11 472.35 310.37 473.37 311.59 474.5 313.83 476.83 319.69 477.86 321.91 478.97 323.54 479.51 323.94 480.03 324.08 480.5 323.97 480.97 323.66 481.96 322.37 483.04 320.17 485.25 314.58 486.23 312.43 487.28 310.79 487.78 310.32 488.27 310.1 488.77 310.1 489.27 310.34 490.31 311.56 491.45 313.82 493.79 319.7 494.81 321.92 495.93 323.54 496.46 323.94 496.98 324.08 497.46 323.97 497.94 323.65 498.93 322.33 500.01 320.13 503.14 312.52 504.16 310.87 504.65 310.39 505.12 310.12 505.64 310.08 506.16 310.3 506.69 310.78 507.23 311.52 508.39 313.79 510.74 319.7 511.77 321.92 512.88 323.54 513.41 323.94 513.94 324.08 514.39 323.98 514.85 323.68 515.8 322.47 516.9 320.27 519.21 314.46 520.23 312.24 521.35 310.6 521.89 310.2 522.41 310.07 522.93 310.19 523.46 310.59 524.58 312.2 525.61 314.43 528 320.41 529.2 322.74 529.79 323.49 530.35 323.94 530.92 324.08 531.48 323.91 532.27 323.19 533.1 321.86 534.04 319.82 536.86 312.88 537.79 311.23 538.65 310.31" stroke="#9a9484" stroke-width="1.05" stroke-dasharray="3.42 1.48" stroke-opacity="1"/>
</g>
<rect x="397" y="196.67" width="148.4" height="147.1" fill="none" stroke="#000" stroke-width="0.65"/>
<path d="M403.75 343.77v2.16M430.73 343.77v2.16M457.71 343.77v2.16M484.69 343.77v2.16M511.67 343.77v2.16M538.65 343.77v2.16M397 337.08h-2.16M397 317.07h-2.16M397 297.06h-2.16M397 277.05h-2.16M397 257.03h-2.16M397 237.02h-2.16M397 217.01h-2.16M397 197h-2.16" stroke="#000" stroke-width="0.65" fill="none"/>
<g font-size="6.4" fill="#000"><text x="403.75" y="353.07" text-anchor="middle" textLength="3.92" lengthAdjust="spacingAndGlyphs">0</text><text x="430.73" y="353.07" text-anchor="middle" textLength="11.76" lengthAdjust="spacingAndGlyphs">100</text><text x="457.71" y="353.07" text-anchor="middle" textLength="11.76" lengthAdjust="spacingAndGlyphs">200</text><text x="484.69" y="353.07" text-anchor="middle" textLength="11.76" lengthAdjust="spacingAndGlyphs">300</text><text x="511.67" y="353.07" text-anchor="middle" textLength="11.76" lengthAdjust="spacingAndGlyphs">400</text><text x="538.65" y="353.07" text-anchor="middle" textLength="11.76" lengthAdjust="spacingAndGlyphs">500</text><text x="392.1" y="339.48" text-anchor="end" textLength="13.01" lengthAdjust="spacingAndGlyphs">−20</text><text x="392.1" y="319.47" text-anchor="end" textLength="3.92" lengthAdjust="spacingAndGlyphs">0</text><text x="392.1" y="299.46" text-anchor="end" textLength="7.84" lengthAdjust="spacingAndGlyphs">20</text><text x="392.1" y="279.45" text-anchor="end" textLength="7.84" lengthAdjust="spacingAndGlyphs">40</text><text x="392.1" y="259.43" text-anchor="end" textLength="7.84" lengthAdjust="spacingAndGlyphs">60</text><text x="392.1" y="239.42" text-anchor="end" textLength="7.84" lengthAdjust="spacingAndGlyphs">80</text><text x="392.1" y="219.41" text-anchor="end" textLength="11.76" lengthAdjust="spacingAndGlyphs">100</text><text x="392.1" y="199.4" text-anchor="end" textLength="11.76" lengthAdjust="spacingAndGlyphs">120</text></g>
<text x="471.2" y="361.77" text-anchor="middle" font-size="6.4">t</text>
<text transform="translate(374.3 271.02) rotate(-90)" text-anchor="middle" font-size="6.4" textLength="18.0" lengthAdjust="spacingAndGlyphs">V&amp;I(t)</text>
<text x="471.2" y="192.97" text-anchor="middle" font-size="8.0" font-weight="bold" text-rendering="geometricPrecision" textLength="24.5" lengthAdjust="spacingAndGlyphs">a=0.1</text>
<rect x="400.2" y="199.87" width="32.4" height="21.5" rx="1.2" fill="#fff" fill-opacity="0.8" stroke="#cccccc" stroke-width="0.62"/>
<path d="M402.2 205.27h14.0" stroke="#bcc6e0" stroke-opacity="1" stroke-width="0.92"/>
<path d="M402.2 214.97h14.0" stroke="#9a9484" stroke-opacity="1" stroke-width="1.05" stroke-dasharray="3.42 1.48"/>
<g font-size="6.4"><text x="420.6" y="207.17" textLength="4.4" lengthAdjust="spacingAndGlyphs">V</text><text x="420.6" y="216.27" textLength="9.0" lengthAdjust="spacingAndGlyphs">I(t)</text></g>
<clipPath id="c6"><rect x="30.7" y="379.94" width="148.4" height="147.1"/></clipPath>
<g clip-path="url(#c6)" fill="none" stroke-linejoin="round">
<path d="M37.45 520.35L38.31 479.45 38.52 395.75 39.13 509.62 39.19 510.16 39.31 510.04 40.64 505.74 40.96 505.28 41.29 505.22 41.64 505.57 42.02 506.34 43.85 511.49 44.35 512.15 44.58 512.2 44.81 512.07 45.24 511.29 45.67 509.8 46.55 504.53 47.23 497.94 47.54 491.29 47.7 471.4 47.81 386.64 48.48 506.25 48.6 511.2 48.96 510.21 49.36 508.32 51 497.3 51.48 495.19 51.84 494.29 52.03 494.37 52.21 495.02 52.75 499.68 53.07 501.28 54.37 503.8 56.45 510.41 56.92 511.54 57.34 512.11 57.7 512.17 58.04 511.82 58.7 509.84 59.4 505.89 60.06 500.43 60.51 493.59 60.69 482.94 60.85 386.63 61.52 506.15 61.64 511.2 62 510.22 62.4 508.32 64.04 497.31 64.52 495.2 64.88 494.29 65.07 494.37 65.25 495.02 65.8 499.69 66.11 501.29 67.41 503.8 69.49 510.42 69.96 511.54 70.38 512.11 70.74 512.17 71.08 511.82 71.74 509.84 72.44 505.9 73.1 500.44 73.56 493.45 73.73 482.63 73.89 386.63 74.56 506.06 74.68 511.2 75.04 510.24 75.43 508.34 77.09 497.28 77.56 495.18 77.92 494.29 78.12 494.37 78.29 495.03 78.84 499.69 79.15 501.29 80.45 503.8 82.53 510.42 83 511.54 83.43 512.11 83.78 512.17 84.12 511.82 84.78 509.84 85.48 505.9 86.14 500.45 86.6 493.47 86.77 482.72 86.93 386.63 87.6 505.96 87.72 511.2 88.07 510.25 88.47 508.34 90.13 497.29 90.6 495.18 90.96 494.29 91.16 494.37 91.33 495.03 91.88 499.68 92.19 501.28 93.49 503.8 95.57 510.42 96.05 511.54 96.47 512.11 96.82 512.17 97.16 511.82 97.82 509.83 98.52 505.88 99.18 500.42 99.64 493.48 99.81 482.8 99.97 386.63 100.76 511.19 101.11 510.25 101.51 508.35 103.17 497.29 103.64 495.18 104 494.29 104.2 494.37 104.37 495.03 104.92 499.68 105.23 501.28 106.53 503.81 108.61 510.41 109.09 511.54 109.51 512.11 109.86 512.17 110.2 511.82 110.86 509.84 111.56 505.89 112.22 500.43 112.68 493.5 112.85 482.89 113.01 386.63 113.8 511.19 114.15 510.28 114.55 508.35 116.21 497.28 116.68 495.18 117.04 494.29 117.24 494.37 117.41 495.02 117.96 499.67 118.27 501.28 119.57 503.8 121.66 510.42 122.13 511.54 122.55 512.11 122.9 512.17 123.24 511.82 123.9 509.84 124.6 505.89 125.26 500.44 125.72 493.59 125.89 482.97 126.05 386.63 126.83 511.18 127.18 510.3 127.59 508.37 129.26 497.25 129.73 495.17 130.09 494.28 130.28 494.37 130.45 495.03 131 499.69 131.32 501.29 132.61 503.8 134.7 510.42 135.17 511.54 135.59 512.11 135.94 512.17 136.28 511.82 136.94 509.84 137.65 505.9 138.3 500.44 138.76 493.46 138.94 482.67 139.09 386.63 139.87 511.16 140.21 510.35 140.63 508.4 142.3 497.23 142.77 495.17 143.13 494.29 143.32 494.37 143.49 495.03 144.04 499.68 144.36 501.28 145.65 503.8 147.74 510.42 148.21 511.54 148.63 512.11 148.98 512.17 149.32 511.82 149.99 509.83 150.69 505.9 151.34 500.45 151.8 493.48 151.98 482.76 152.13 386.63 152.9 511.12 152.99 511.13 153.23 510.44 153.66 508.45 155.35 497.19 155.81 495.15 156.17 494.29 156.36 494.37 156.54 495.03 157.08 499.68 157.4 501.28 158.69 503.81 160.78 510.41 161.25 511.54 161.67 512.11 162.02 512.17 162.36 511.82 163.03 509.84 163.73 505.91 164.38 500.45 164.84 493.57 165.02 482.84 165.17 386.63 165.92 510.89 165.97 511.2 166.09 510.98 166.57 509.15 168.24 498.02 168.8 495.37 169.22 494.28 169.41 494.38 169.58 495.05 170.4 501.14 170.65 501.82 171.58 503.44 172.35 505.62" stroke="#bcc6e0" stroke-width="0.92" stroke-opacity="1"/>
<path d="M37.45 493.42L37.8 493.52 38.15 493.82 38.89 495.05 39.73 497.24 42.27 505.18 43.11 506.81 43.52 507.23 43.92 507.38 44.27 507.31 44.64 507.03 45.39 505.81 46.24 503.6 48.8 495.59 49.66 493.96 50.07 493.56 50.47 493.42 50.83 493.52 51.18 493.81 51.93 495.04 52.77 497.24 55.31 505.17 56.15 506.8 56.55 507.22 56.95 507.38 57.31 507.31 57.67 507.03 58.43 505.81 59.28 503.6 61.85 495.59 62.7 493.97 63.11 493.56 63.51 493.42 63.87 493.51 64.22 493.81 64.97 495.05 65.81 497.25 68.35 505.17 69.19 506.8 69.59 507.22 69.99 507.38 70.35 507.31 70.71 507.03 71.47 505.82 72.32 503.61 74.89 495.59 75.74 493.97 76.15 493.56 76.55 493.42 76.91 493.51 77.27 493.82 78.02 495.05 78.85 497.25 81.38 505.16 82.22 506.79 82.62 507.21 83.02 507.38 83.38 507.32 83.75 507.04 84.51 505.82 85.36 503.6 87.93 495.6 88.78 493.97 89.19 493.56 89.59 493.42 89.94 493.51 90.31 493.81 91.06 495.05 91.9 497.25 94.42 505.14 95.26 506.78 95.66 507.21 96.05 507.38 96.41 507.32 96.78 507.05 97.55 505.82 98.4 503.6 100.96 495.6 101.82 493.97 102.23 493.57 102.63 493.42 102.98 493.51 103.35 493.81 104.1 495.06 104.94 497.26 107.45 505.13 108.29 506.77 108.69 507.2 109.07 507.38 109.44 507.33 109.81 507.05 110.59 505.83 111.44 503.6 114 495.6 114.86 493.98 115.26 493.57 115.66 493.42 116.02 493.51 116.39 493.81 117.14 495.07 117.99 497.27 120.48 505.11 121.31 506.74 121.71 507.18 122.09 507.38 122.47 507.33 122.84 507.07 123.62 505.84 124.48 503.6 127.04 495.61 127.89 493.99 128.3 493.58 128.7 493.42 129.06 493.51 129.43 493.81 130.19 495.08 131.03 497.29 133.51 505.06 134.33 506.71 134.72 507.16 135.1 507.37 135.48 507.35 135.86 507.09 136.65 505.85 137.52 503.61 140.08 495.63 140.92 494 141.33 493.58 141.72 493.42 142.09 493.5 142.47 493.81 143.25 495.11 144.08 497.32 146.52 505 147.32 506.64 148.07 507.35 148.47 507.36 148.86 507.12 149.68 505.88 150.56 503.62 153.11 495.65 153.95 494.02 154.35 493.6 154.74 493.43 155.12 493.5 155.51 493.81 156.32 495.17 157.15 497.4 159.49 504.81 160.25 506.45 160.95 507.27 161.38 507.38 161.81 507.21 162.24 506.73 162.69 505.94 163.6 503.63 166.12 495.73 166.93 494.1 167.32 493.65 167.69 493.44 168.12 493.48 168.55 493.81 169.45 495.38 170.26 497.6 172.35 504.33" stroke="#9a9484" stroke-width="1.05" stroke-dasharray="3.42 1.48" stroke-opacity="1"/>
</g>
<rect x="30.7" y="379.94" width="148.4" height="147.1" fill="none" stroke="#000" stroke-width="0.65"/>
<path d="M37.45 527.04v2.16M64.43 527.04v2.16M91.41 527.04v2.16M118.39 527.04v2.16M145.37 527.04v2.16M172.35 527.04v2.16M30.7 520.35h-2.16M30.7 500.4h-2.16M30.7 480.45h-2.16M30.7 460.51h-2.16M30.7 440.56h-2.16M30.7 420.61h-2.16M30.7 400.66h-2.16M30.7 380.71h-2.16" stroke="#000" stroke-width="0.65" fill="none"/>
<g font-size="6.4" fill="#000"><text x="37.45" y="536.34" text-anchor="middle" textLength="3.92" lengthAdjust="spacingAndGlyphs">0</text><text x="64.43" y="536.34" text-anchor="middle" textLength="11.76" lengthAdjust="spacingAndGlyphs">100</text><text x="91.41" y="536.34" text-anchor="middle" textLength="11.76" lengthAdjust="spacingAndGlyphs">200</text><text x="118.39" y="536.34" text-anchor="middle" textLength="11.76" lengthAdjust="spacingAndGlyphs">300</text><text x="145.37" y="536.34" text-anchor="middle" textLength="11.76" lengthAdjust="spacingAndGlyphs">400</text><text x="172.35" y="536.34" text-anchor="middle" textLength="11.76" lengthAdjust="spacingAndGlyphs">500</text><text x="25.8" y="522.75" text-anchor="end" textLength="13.01" lengthAdjust="spacingAndGlyphs">−20</text><text x="25.8" y="502.8" text-anchor="end" textLength="3.92" lengthAdjust="spacingAndGlyphs">0</text><text x="25.8" y="482.85" text-anchor="end" textLength="7.84" lengthAdjust="spacingAndGlyphs">20</text><text x="25.8" y="462.91" text-anchor="end" textLength="7.84" lengthAdjust="spacingAndGlyphs">40</text><text x="25.8" y="442.96" text-anchor="end" textLength="7.84" lengthAdjust="spacingAndGlyphs">60</text><text x="25.8" y="423.01" text-anchor="end" textLength="7.84" lengthAdjust="spacingAndGlyphs">80</text><text x="25.8" y="403.06" text-anchor="end" textLength="11.76" lengthAdjust="spacingAndGlyphs">100</text><text x="25.8" y="383.11" text-anchor="end" textLength="11.76" lengthAdjust="spacingAndGlyphs">120</text></g>
<text x="104.9" y="545.04" text-anchor="middle" font-size="6.4">t</text>
<text transform="translate(8 454.29) rotate(-90)" text-anchor="middle" font-size="6.4" textLength="18.0" lengthAdjust="spacingAndGlyphs">V&amp;I(t)</text>
<text x="104.9" y="376.24" text-anchor="middle" font-size="8.0" font-weight="bold" text-rendering="geometricPrecision" textLength="29.5" lengthAdjust="spacingAndGlyphs">a=0.13</text>
<rect x="143.5" y="442.74" width="32.4" height="21.5" rx="1.2" fill="#fff" fill-opacity="0.8" stroke="#cccccc" stroke-width="0.62"/>
<path d="M145.5 448.14h14.0" stroke="#bcc6e0" stroke-opacity="1" stroke-width="0.92"/>
<path d="M145.5 457.84h14.0" stroke="#9a9484" stroke-opacity="1" stroke-width="1.05" stroke-dasharray="3.42 1.48"/>
<g font-size="6.4"><text x="163.9" y="450.04" textLength="4.4" lengthAdjust="spacingAndGlyphs">V</text><text x="163.9" y="459.14" textLength="9.0" lengthAdjust="spacingAndGlyphs">I(t)</text></g>
<clipPath id="c7"><rect x="213.85" y="379.94" width="148.4" height="147.1"/></clipPath>
<g clip-path="url(#c7)" fill="none" stroke-linejoin="round">
<path d="M220.6 520.35L221.48 479.82 221.69 396.13 222.27 509.54 222.39 510.7 223.09 509.83 223.52 509.73 223.95 510.19 224.93 512.08 225.21 512.26 225.46 512.07 225.78 511.22 226.1 509.65 226.74 504.16 227.27 497.08 227.5 489.96 227.64 469.11 227.74 386.88 228.41 506.01 228.53 510.99 229.05 509.21 230.18 503.21 230.51 502.23 230.82 501.94 231.14 502.31 231.5 503.37 233.21 510.92 233.64 511.78 233.84 511.83 234.02 511.63 234.43 510.27 234.84 507.61 235.64 498.56 235.93 491.27 236.06 479.6 236.19 386.63 236.87 505.94 236.98 511 237.51 509.21 238.65 503.14 238.98 502.16 239.29 501.87 239.61 502.24 239.96 503.31 241.68 510.91 242.11 511.78 242.31 511.83 242.5 511.63 242.91 510.27 243.32 507.62 244.12 498.58 244.41 491.35 244.53 479.92 244.67 386.63 245.35 506.11 245.46 511 245.99 509.21 247.13 503.14 247.45 502.17 247.76 501.87 248.08 502.24 248.44 503.3 250.16 510.91 250.59 511.78 250.79 511.83 250.98 511.63 251.39 510.27 251.79 507.61 252.59 498.56 252.88 491.3 253.01 479.7 253.15 386.63 253.82 505.86 253.94 511 254.46 509.22 255.61 503.13 255.93 502.16 256.24 501.87 256.56 502.24 256.92 503.31 258.64 510.91 259.06 511.78 259.26 511.83 259.45 511.63 259.86 510.28 260.27 507.62 261.07 498.59 261.36 491.25 261.49 479.48 261.62 386.63 262.3 506.03 262.41 511 262.94 509.21 264.08 503.14 264.41 502.16 264.72 501.87 265.04 502.24 265.39 503.31 267.11 510.91 267.54 511.78 267.74 511.83 267.93 511.63 268.34 510.27 268.75 507.61 269.55 498.57 269.84 491.32 269.96 479.8 270.1 386.63 270.78 505.78 270.89 511 271.41 509.22 272.56 503.13 272.88 502.17 273.19 501.87 273.51 502.24 273.87 503.3 275.59 510.92 276.02 511.78 276.22 511.83 276.41 511.63 276.82 510.27 277.22 507.61 278.02 498.55 278.31 491.27 278.44 479.58 278.57 386.63 279.36 511 279.89 509.23 281.04 503.13 281.36 502.16 281.67 501.87 281.99 502.24 282.35 503.31 284.07 510.91 284.49 511.78 284.69 511.83 284.88 511.63 285.29 510.27 285.7 507.62 286.5 498.58 286.79 491.34 286.91 479.9 287.05 386.63 287.84 511 288.36 509.23 289.51 503.14 289.83 502.17 290.15 501.87 290.47 502.24 290.82 503.3 292.55 510.91 292.97 511.78 293.17 511.83 293.36 511.63 293.77 510.27 294.18 507.61 294.98 498.56 295.27 491.29 295.39 479.68 295.53 386.63 296.31 510.99 296.84 509.24 297.99 503.13 298.31 502.16 298.62 501.87 298.95 502.24 299.3 503.31 301.02 510.91 301.45 511.78 301.64 511.83 301.84 511.63 302.25 510.28 302.65 507.62 303.45 498.59 303.75 491.24 303.87 479.46 304 386.63 304.79 510.99 305.31 509.25 306.47 503.13 306.79 502.16 307.1 501.87 307.42 502.24 307.78 503.31 309.5 510.91 309.92 511.78 310.12 511.83 310.31 511.63 310.72 510.27 311.13 507.61 311.93 498.57 312.22 491.31 312.34 479.78 312.48 386.63 313.26 510.99 313.79 509.26 314.95 503.12 315.27 502.16 315.58 501.87 315.9 502.24 316.25 503.3 317.97 510.91 318.4 511.78 318.6 511.83 318.79 511.63 319.2 510.29 319.6 507.65 320.4 498.6 320.7 491.26 320.82 479.56 320.96 386.63 321.74 510.97 322.26 509.29 323.43 503.11 323.74 502.16 324.05 501.87 324.38 502.24 324.73 503.31 326.45 510.91 326.88 511.78 327.07 511.83 327.27 511.63 327.68 510.27 328.08 507.62 328.88 498.58 329.17 491.34 329.3 479.88 329.43 386.63 330.21 510.96 330.73 509.31 331.9 503.1 332.22 502.16 332.53 501.87 332.85 502.24 333.21 503.31 334.93 510.91 335.35 511.78 335.55 511.83 335.74 511.63 336.15 510.29 336.56 507.65 337.36 498.6 337.65 491.29 337.77 479.66 337.91 386.63 338.68 510.92 338.73 510.99 338.84 510.74 339.19 509.37 340.39 503.08 340.7 502.15 341.01 501.87 341.33 502.24 341.68 503.31 343.4 510.91 343.83 511.78 344.03 511.83 344.22 511.64 344.62 510.3 345.03 507.67 345.83 498.63 346.12 491.48 346.25 479.98 346.39 386.63 347.14 510.81 347.18 511 347.26 510.87 347.65 509.47 348.88 503.03 349.19 502.14 349.49 501.87 349.81 502.24 350.16 503.31 351.88 510.91 352.3 511.78 352.5 511.83 352.69 511.64 353.1 510.31 353.51 507.68 354.31 498.66 354.6 491.43 354.73 479.76 354.87 386.63 355.5 497.76" stroke="#bcc6e0" stroke-width="0.92" stroke-opacity="1"/>
<path d="M220.6 493.47L221.05 493.86 221.53 495.06 223.74 505.26 224.3 506.88 224.57 507.28 224.83 507.41 225.29 507.01 225.77 505.79 227.97 495.66 228.53 494.03 228.79 493.62 229.05 493.47 229.28 493.55 229.51 493.83 230 495.04 232.22 505.26 232.78 506.88 233.05 507.28 233.31 507.41 233.77 507.01 234.25 505.79 236.45 495.66 237 494.03 237.26 493.62 237.52 493.47 237.75 493.55 237.99 493.83 238.47 495.04 240.7 505.25 241.26 506.87 241.52 507.27 241.78 507.41 242.25 507.01 242.73 505.79 244.92 495.67 245.48 494.04 245.74 493.63 246 493.47 246.23 493.55 246.46 493.83 246.95 495.04 249.17 505.26 249.73 506.88 250 507.28 250.26 507.41 250.72 507.01 251.2 505.78 253.4 495.68 253.95 494.05 254.21 493.63 254.47 493.47 254.7 493.54 254.94 493.82 255.42 495.03 257.65 505.25 258.21 506.87 258.48 507.27 258.74 507.41 259.2 507.01 259.68 505.79 261.87 495.67 262.43 494.04 262.69 493.63 262.94 493.47 263.18 493.54 263.41 493.83 263.9 495.04 266.13 505.26 266.69 506.88 266.95 507.28 267.21 507.41 267.68 507.01 268.16 505.78 270.35 495.69 270.9 494.05 271.16 493.63 271.42 493.47 271.65 493.54 271.89 493.82 272.38 495.03 274.6 505.25 275.16 506.87 275.43 507.27 275.69 507.41 276.15 507.01 276.63 505.78 278.82 495.69 279.37 494.06 279.63 493.64 279.89 493.47 280.12 493.54 280.36 493.82 280.85 495.02 283.08 505.25 283.64 506.87 283.91 507.27 284.17 507.41 284.63 507.01 285.11 505.78 287.3 495.7 287.84 494.07 288.1 493.64 288.36 493.47 288.6 493.53 288.83 493.81 289.33 495.02 291.55 505.25 292.11 506.87 292.38 507.27 292.64 507.41 293.11 507.01 293.59 505.77 295.77 495.71 296.32 494.07 296.83 493.47 297.07 493.53 297.3 493.8 297.8 495.01 300.03 505.25 300.59 506.87 300.86 507.27 301.12 507.41 301.58 507.01 302.07 505.76 304.24 495.72 304.79 494.09 305.3 493.47 305.54 493.53 305.78 493.8 306.28 495.01 308.51 505.26 309.07 506.88 309.33 507.27 309.59 507.41 310.06 507 310.55 505.76 312.72 495.74 313.26 494.1 313.76 493.48 314 493.52 314.25 493.78 314.75 495 316.99 505.25 317.54 506.87 317.81 507.27 318.07 507.41 318.54 507 319.03 505.74 321.19 495.77 321.72 494.13 322.23 493.48 322.47 493.51 322.71 493.77 323.22 494.99 325.46 505.24 326.02 506.87 326.28 507.27 326.54 507.41 327.02 507 327.51 505.72 329.65 495.81 330.18 494.18 330.67 493.49 330.92 493.5 331.17 493.74 331.69 494.97 333.94 505.25 334.49 506.87 334.76 507.27 335.02 507.41 335.26 507.31 335.5 506.99 336 505.68 338.11 495.89 338.62 494.25 339.1 493.52 339.36 493.48 339.62 493.7 340.16 494.93 342.41 505.24 342.97 506.86 343.23 507.27 343.49 507.41 343.74 507.31 343.99 506.97 344.5 505.6 346.53 496.1 347.01 494.47 347.46 493.62 347.74 493.47 348.02 493.61 348.6 494.83 349.2 497.14 350.89 505.24 351.44 506.85 351.7 507.26 351.96 507.41 352.22 507.3 352.49 506.93 353.04 505.36 354.82 496.88 355.5 494.43" stroke="#9a9484" stroke-width="1.05" stroke-dasharray="3.42 1.48" stroke-opacity="1"/>
</g>
<rect x="213.85" y="379.94" width="148.4" height="147.1" fill="none" stroke="#000" stroke-width="0.65"/>
<path d="M220.6 527.04v2.16M247.58 527.04v2.16M274.56 527.04v2.16M301.54 527.04v2.16M328.52 527.04v2.16M355.5 527.04v2.16M213.85 520.35h-2.16M213.85 500.44h-2.16M213.85 480.52h-2.16M213.85 460.61h-2.16M213.85 440.69h-2.16M213.85 420.77h-2.16M213.85 400.86h-2.16M213.85 380.94h-2.16" stroke="#000" stroke-width="0.65" fill="none"/>
<g font-size="6.4" fill="#000"><text x="220.6" y="536.34" text-anchor="middle" textLength="3.92" lengthAdjust="spacingAndGlyphs">0</text><text x="247.58" y="536.34" text-anchor="middle" textLength="11.76" lengthAdjust="spacingAndGlyphs">100</text><text x="274.56" y="536.34" text-anchor="middle" textLength="11.76" lengthAdjust="spacingAndGlyphs">200</text><text x="301.54" y="536.34" text-anchor="middle" textLength="11.76" lengthAdjust="spacingAndGlyphs">300</text><text x="328.52" y="536.34" text-anchor="middle" textLength="11.76" lengthAdjust="spacingAndGlyphs">400</text><text x="355.5" y="536.34" text-anchor="middle" textLength="11.76" lengthAdjust="spacingAndGlyphs">500</text><text x="208.95" y="522.75" text-anchor="end" textLength="13.01" lengthAdjust="spacingAndGlyphs">−20</text><text x="208.95" y="502.84" text-anchor="end" textLength="3.92" lengthAdjust="spacingAndGlyphs">0</text><text x="208.95" y="482.92" text-anchor="end" textLength="7.84" lengthAdjust="spacingAndGlyphs">20</text><text x="208.95" y="463.01" text-anchor="end" textLength="7.84" lengthAdjust="spacingAndGlyphs">40</text><text x="208.95" y="443.09" text-anchor="end" textLength="7.84" lengthAdjust="spacingAndGlyphs">60</text><text x="208.95" y="423.17" text-anchor="end" textLength="7.84" lengthAdjust="spacingAndGlyphs">80</text><text x="208.95" y="403.26" text-anchor="end" textLength="11.76" lengthAdjust="spacingAndGlyphs">100</text><text x="208.95" y="383.34" text-anchor="end" textLength="11.76" lengthAdjust="spacingAndGlyphs">120</text></g>
<text x="288.05" y="545.04" text-anchor="middle" font-size="6.4">t</text>
<text transform="translate(191.15 454.29) rotate(-90)" text-anchor="middle" font-size="6.4" textLength="18.0" lengthAdjust="spacingAndGlyphs">V&amp;I(t)</text>
<text x="288.05" y="376.24" text-anchor="middle" font-size="8.0" font-weight="bold" text-rendering="geometricPrecision" textLength="24.5" lengthAdjust="spacingAndGlyphs">a=0.2</text>
<rect x="271.85" y="442.74" width="32.4" height="21.5" rx="1.2" fill="#fff" fill-opacity="0.8" stroke="#cccccc" stroke-width="0.62"/>
<path d="M273.85 448.14h14.0" stroke="#bcc6e0" stroke-opacity="1" stroke-width="0.92"/>
<path d="M273.85 457.84h14.0" stroke="#9a9484" stroke-opacity="1" stroke-width="1.05" stroke-dasharray="3.42 1.48"/>
<g font-size="6.4"><text x="292.25" y="450.04" textLength="4.4" lengthAdjust="spacingAndGlyphs">V</text><text x="292.25" y="459.14" textLength="9.0" lengthAdjust="spacingAndGlyphs">I(t)</text></g>
<clipPath id="c8"><rect x="397" y="379.94" width="148.4" height="147.1"/></clipPath>
<g clip-path="url(#c8)" fill="none" stroke-linejoin="round">
<path d="M403.75 520.35L404.67 479.95 404.88 396.19 405.49 510.95 405.62 511.59 406.75 512.45 407.09 512.05 407.39 510.83 408.12 503.35 408.7 492.39 408.9 472.06 409.01 388.62 409.71 510.08 409.81 510.91 410.62 509.06 410.86 508.78 411.09 508.79 411.47 509.41 412.25 511.71 412.44 511.99 412.61 511.97 412.87 511.35 413.11 509.96 413.61 504.68 414.07 496.65 414.29 488.89 414.51 386.7 415.18 505.89 415.3 510.93 416.19 508.7 416.41 508.37 416.61 508.28 417.05 508.89 417.98 511.77 418.24 511.92 418.47 511.46 418.8 509.62 419.13 506.3 419.76 495.78 419.94 488.23 420.03 475.68 420.15 386.63 420.82 505.64 420.94 510.92 421.84 508.69 422.06 508.35 422.26 508.26 422.7 508.87 423.63 511.76 423.89 511.92 424.12 511.46 424.45 509.65 424.78 506.34 425.41 495.81 425.59 488.29 425.68 475.92 425.8 386.63 426.48 505.92 426.6 510.93 427.49 508.69 427.71 508.35 427.92 508.26 428.35 508.87 429.28 511.76 429.54 511.92 429.78 511.46 430.1 509.64 430.43 506.32 431.06 495.83 431.24 488.37 431.33 476.21 431.46 386.63 432.13 505.76 432.25 510.92 433.14 508.68 433.36 508.35 433.57 508.26 434 508.87 434.94 511.76 435.19 511.92 435.43 511.46 435.76 509.62 436.09 506.3 436.71 495.79 436.9 488.25 436.98 475.77 437.11 386.63 437.78 505.58 437.9 510.92 438.79 508.68 439.01 508.34 439.22 508.26 439.65 508.87 440.59 511.76 440.84 511.92 441.08 511.47 441.4 509.65 441.73 506.35 442.36 495.82 442.55 488.33 442.63 476.06 442.76 386.63 443.43 505.84 443.55 510.92 444.44 508.68 444.66 508.34 444.87 508.26 445.3 508.88 446.24 511.76 446.5 511.92 446.73 511.46 447.06 509.64 447.39 506.33 448.01 495.85 448.2 488.21 448.29 475.61 448.41 386.63 449.08 505.68 449.2 510.92 450.09 508.68 450.31 508.35 450.52 508.26 450.95 508.87 451.89 511.76 452.15 511.92 452.38 511.46 452.71 509.65 453.04 506.34 453.66 495.81 453.85 488.28 453.94 475.9 454.06 386.63 454.73 505.93 454.85 510.92 455.74 508.68 455.97 508.34 456.17 508.26 456.6 508.87 457.54 511.76 457.8 511.92 458.03 511.46 458.36 509.63 458.69 506.32 459.31 495.83 459.5 488.36 459.59 476.19 459.71 386.63 460.38 505.77 460.5 510.92 461.39 508.68 461.62 508.35 461.82 508.26 462.26 508.87 463.19 511.76 463.45 511.92 463.68 511.46 464.01 509.62 464.34 506.3 464.96 495.79 465.15 488.24 465.24 475.75 465.36 386.63 466.03 505.6 466.15 510.92 467.05 508.68 467.27 508.34 467.47 508.26 467.91 508.87 468.84 511.76 469.1 511.92 469.33 511.47 469.66 509.65 469.99 506.35 470.61 495.82 470.8 488.32 470.89 476.04 471.01 386.63 471.69 505.85 471.8 510.92 472.7 508.68 472.92 508.34 473.12 508.26 473.56 508.87 474.49 511.76 474.75 511.92 474.99 511.46 475.31 509.64 475.64 506.33 476.26 495.85 476.45 488.2 476.54 475.59 476.66 386.63 477.34 505.69 477.45 510.92 478.35 508.68 478.57 508.35 478.77 508.26 479.21 508.87 480.14 511.76 480.4 511.92 480.64 511.46 480.96 509.63 481.29 506.31 481.92 495.8 482.1 488.28 482.19 475.89 482.31 386.63 483.1 510.92 484 508.68 484.22 508.34 484.43 508.26 484.86 508.87 485.79 511.76 486.05 511.92 486.29 511.47 486.61 509.66 486.94 506.35 487.57 495.83 487.75 488.36 487.84 476.17 487.97 386.63 488.75 510.91 489.66 508.67 489.87 508.34 490.08 508.26 490.51 508.87 491.45 511.76 491.7 511.92 491.94 511.46 492.26 509.64 492.59 506.33 493.22 495.86 493.41 488.24 493.5 475.73 493.62 386.63 494.4 510.91 495.31 508.67 495.53 508.34 495.73 508.26 496.16 508.87 497.1 511.76 497.35 511.92 497.59 511.47 497.91 509.65 498.24 506.35 498.87 495.82 499.06 488.32 499.15 476.02 499.27 386.63 500.05 510.9 500.96 508.67 501.18 508.34 501.38 508.26 501.81 508.87 502.75 511.76 503 511.92 503.24 511.47 503.56 509.66 503.89 506.36 504.52 495.84 504.71 488.2 504.8 475.57 504.92 386.63 505.7 510.9 506.61 508.66 506.83 508.34 507.03 508.26 507.46 508.87 508.4 511.76 508.65 511.92 508.89 511.47 509.21 509.67 509.54 506.37 510.17 495.87 510.36 488.28 510.45 475.87 510.57 386.63 511.34 510.89 512.27 508.66 512.48 508.34 512.68 508.26 513.11 508.87 514.05 511.76 514.31 511.92 514.54 511.47 514.87 509.65 515.2 506.35 515.82 495.83 516.01 488.35 516.1 476.16 516.22 386.63 516.99 510.87 517.92 508.65 518.13 508.34 518.33 508.26 518.77 508.87 519.7 511.76 519.96 511.92 520.19 511.47 520.52 509.66 520.85 506.37 521.47 495.86 521.66 488.23 521.75 475.71 521.87 386.63 522.64 510.85 522.68 510.93 522.76 510.77 523.58 508.64 523.79 508.33 523.99 508.26 524.42 508.88 525.35 511.75 525.61 511.92 525.84 511.47 526.17 509.67 526.5 506.38 527.12 495.88 527.31 488.31 527.4 476 527.52 386.63 528.28 510.79 528.32 510.93 528.4 510.81 529.25 508.6 529.64 508.26 530.07 508.88 531 511.75 531.26 511.92 531.49 511.48 531.82 509.68 532.15 506.39 532.77 495.91 532.96 488.39 533.05 476.29 533.17 386.63 533.91 510.57 534.01 510.89 534.84 508.73 535.27 508.26 535.48 508.4 535.7 508.83 536.72 511.85 536.87 511.94 537.02 511.79 537.31 510.76 537.79 506.44 538.29 498.83 538.53 492.52 538.65 484.56" stroke="#bcc6e0" stroke-width="0.92" stroke-opacity="1"/>
<path d="M403.75 493.39L404.05 493.79 404.37 494.99 405.84 505.21 406.22 506.84 406.57 507.37 406.88 506.98 407.19 505.76 408.67 495.57 409.04 493.95 409.39 493.39 409.69 493.77 410.02 494.99 411.49 505.21 411.87 506.84 412.22 507.37 412.53 506.98 412.84 505.77 414.32 495.58 414.69 493.95 415.04 493.39 415.34 493.77 415.67 494.98 417.14 505.2 417.52 506.83 417.87 507.37 418.18 506.97 418.5 505.76 419.97 495.58 420.34 493.95 420.69 493.39 420.99 493.77 421.32 494.98 422.8 505.21 423.17 506.84 423.52 507.37 423.83 506.97 424.15 505.75 425.62 495.59 425.99 493.96 426.34 493.39 426.65 493.77 426.97 494.98 428.45 505.21 428.82 506.83 429.17 507.37 429.48 506.97 429.8 505.76 431.27 495.58 431.64 493.95 431.99 493.39 432.3 493.77 432.62 494.98 434.1 505.22 434.47 506.84 434.82 507.37 435.13 506.98 435.45 505.76 436.92 495.58 437.29 493.95 437.64 493.39 437.95 493.77 438.27 494.97 439.75 505.21 440.12 506.84 440.48 507.37 440.78 506.97 441.1 505.75 442.57 495.58 442.94 493.95 443.29 493.39 443.6 493.77 443.92 494.98 445.4 505.2 445.77 506.83 446.13 507.37 446.43 506.97 446.75 505.76 448.22 495.58 448.59 493.95 448.94 493.39 449.25 493.77 449.57 494.98 451.05 505.21 451.43 506.84 451.78 507.37 452.08 506.98 452.4 505.77 453.87 495.59 454.24 493.96 454.59 493.39 454.9 493.77 455.22 494.97 456.7 505.21 457.08 506.83 457.43 507.37 457.74 506.97 458.05 505.76 459.52 495.59 459.89 493.96 460.24 493.39 460.55 493.76 460.87 494.98 462.36 505.22 462.73 506.84 463.08 507.37 463.39 506.98 463.71 505.75 465.17 495.6 465.54 493.96 465.89 493.39 466.2 493.76 466.52 494.97 468.01 505.21 468.38 506.84 468.73 507.37 469.04 506.98 469.36 505.75 470.82 495.61 471.19 493.97 471.54 493.4 471.85 493.76 472.17 494.97 473.66 505.2 474.03 506.83 474.38 507.37 474.69 506.97 475.01 505.75 476.47 495.61 476.84 493.98 477.19 493.4 477.5 493.76 477.82 494.96 479.31 505.21 479.68 506.84 480.03 507.37 480.34 506.98 480.66 505.75 482.12 495.6 482.49 493.97 482.84 493.4 483.15 493.75 483.48 494.97 484.96 505.21 485.33 506.83 485.68 507.37 485.99 506.97 486.31 505.74 487.77 495.62 488.14 493.98 488.48 493.4 488.8 493.75 489.13 494.97 490.61 505.2 490.98 506.83 491.33 507.37 491.64 506.98 491.96 505.75 493.42 495.61 493.79 493.99 494.13 493.4 494.45 493.75 494.78 494.96 496.26 505.19 496.63 506.83 496.98 507.37 497.29 506.98 497.62 505.74 499.07 495.64 499.44 494 499.78 493.4 500.1 493.74 500.43 494.96 501.91 505.2 502.28 506.83 502.63 507.37 502.94 506.97 503.27 505.73 504.72 495.64 505.08 494.01 505.43 493.4 505.74 493.73 506.08 494.95 507.56 505.2 507.93 506.83 508.28 507.37 508.6 506.97 508.92 505.72 510.37 495.66 510.73 494.02 511.07 493.4 511.39 493.72 511.73 494.95 513.21 505.19 513.58 506.82 513.93 507.37 514.24 506.98 514.57 505.72 516.02 495.69 516.37 494.05 516.71 493.41 516.87 493.44 517.04 493.71 517.37 494.93 518.86 505.19 519.23 506.81 519.58 507.37 519.9 506.98 520.23 505.69 521.66 495.72 522.01 494.08 522.35 493.42 522.51 493.43 522.68 493.69 523.02 494.92 524.51 505.18 524.88 506.81 525.23 507.37 525.55 506.97 525.88 505.67 527.3 495.81 527.64 494.16 527.97 493.44 528.14 493.41 528.31 493.64 528.67 494.88 530.16 505.17 530.53 506.8 530.87 507.37 531.2 506.96 531.55 505.59 532.92 496.01 533.24 494.37 533.54 493.53 533.73 493.39 533.91 493.56 534.3 494.8 535.8 505.12 536.16 506.75 536.5 507.36 536.68 507.29 536.87 506.93 537.25 505.31 538.65 495.5" stroke="#9a9484" stroke-width="1.05" stroke-dasharray="3.42 1.48" stroke-opacity="1"/>
</g>
<rect x="397" y="379.94" width="148.4" height="147.1" fill="none" stroke="#000" stroke-width="0.65"/>
<path d="M403.75 527.04v2.16M430.73 527.04v2.16M457.71 527.04v2.16M484.69 527.04v2.16M511.67 527.04v2.16M538.65 527.04v2.16M397 520.35h-2.16M397 500.38h-2.16M397 480.41h-2.16M397 460.44h-2.16M397 440.47h-2.16M397 420.5h-2.16M397 400.53h-2.16M397 380.56h-2.16" stroke="#000" stroke-width="0.65" fill="none"/>
<g font-size="6.4" fill="#000"><text x="403.75" y="536.34" text-anchor="middle" textLength="3.92" lengthAdjust="spacingAndGlyphs">0</text><text x="430.73" y="536.34" text-anchor="middle" textLength="11.76" lengthAdjust="spacingAndGlyphs">100</text><text x="457.71" y="536.34" text-anchor="middle" textLength="11.76" lengthAdjust="spacingAndGlyphs">200</text><text x="484.69" y="536.34" text-anchor="middle" textLength="11.76" lengthAdjust="spacingAndGlyphs">300</text><text x="511.67" y="536.34" text-anchor="middle" textLength="11.76" lengthAdjust="spacingAndGlyphs">400</text><text x="538.65" y="536.34" text-anchor="middle" textLength="11.76" lengthAdjust="spacingAndGlyphs">500</text><text x="392.1" y="522.75" text-anchor="end" textLength="13.01" lengthAdjust="spacingAndGlyphs">−20</text><text x="392.1" y="502.78" text-anchor="end" textLength="3.92" lengthAdjust="spacingAndGlyphs">0</text><text x="392.1" y="482.81" text-anchor="end" textLength="7.84" lengthAdjust="spacingAndGlyphs">20</text><text x="392.1" y="462.84" text-anchor="end" textLength="7.84" lengthAdjust="spacingAndGlyphs">40</text><text x="392.1" y="442.87" text-anchor="end" textLength="7.84" lengthAdjust="spacingAndGlyphs">60</text><text x="392.1" y="422.9" text-anchor="end" textLength="7.84" lengthAdjust="spacingAndGlyphs">80</text><text x="392.1" y="402.93" text-anchor="end" textLength="11.76" lengthAdjust="spacingAndGlyphs">100</text><text x="392.1" y="382.96" text-anchor="end" textLength="11.76" lengthAdjust="spacingAndGlyphs">120</text></g>
<text x="471.2" y="545.04" text-anchor="middle" font-size="6.4">t</text>
<text transform="translate(374.3 454.29) rotate(-90)" text-anchor="middle" font-size="6.4" textLength="18.0" lengthAdjust="spacingAndGlyphs">V&amp;I(t)</text>
<text x="471.2" y="376.24" text-anchor="middle" font-size="8.0" font-weight="bold" text-rendering="geometricPrecision" textLength="24.5" lengthAdjust="spacingAndGlyphs">a=0.3</text>
<rect x="455" y="442.74" width="32.4" height="21.5" rx="1.2" fill="#fff" fill-opacity="0.8" stroke="#cccccc" stroke-width="0.62"/>
<path d="M457 448.14h14.0" stroke="#bcc6e0" stroke-opacity="1" stroke-width="0.92"/>
<path d="M457 457.84h14.0" stroke="#9a9484" stroke-opacity="1" stroke-width="1.05" stroke-dasharray="3.42 1.48"/>
<g font-size="6.4"><text x="475.4" y="450.04" textLength="4.4" lengthAdjust="spacingAndGlyphs">V</text><text x="475.4" y="459.14" textLength="9.0" lengthAdjust="spacingAndGlyphs">I(t)</text></g>
</svg></body></html>
